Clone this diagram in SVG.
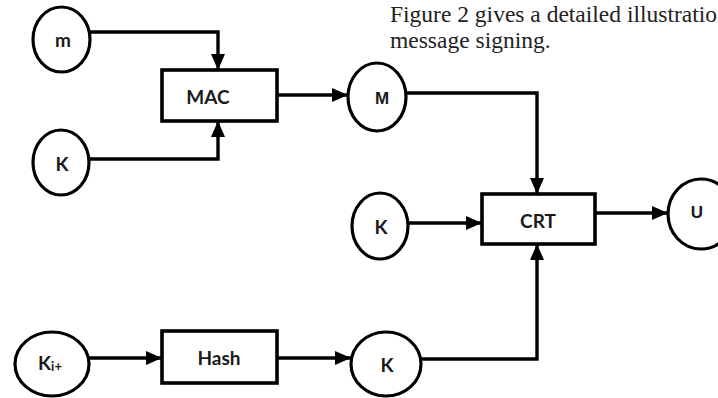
<svg xmlns="http://www.w3.org/2000/svg" width="718" height="398" viewBox="0 0 718 398">
<defs>
<marker id="arr" markerUnits="userSpaceOnUse" markerWidth="16" markerHeight="16" viewBox="0 0 16 16" refX="16" refY="8" orient="auto">
<path d="M0,1 L16,8 L0,15 Z" fill="#000"/>
</marker>
<style>
.node ellipse{fill:#fff;stroke:#000;stroke-width:3.2}
.node rect{fill:#fff;stroke:#000;stroke-width:3.6}
.lbl{font-family:Lato,"Open Sans",sans-serif;font-weight:bold;font-size:19px;fill:#1a1a1a;text-anchor:middle;dominant-baseline:central}
.lbl2{font-family:"Liberation Sans",Arial,sans-serif;font-weight:bold;font-size:17px;fill:#1a1a1a;text-anchor:middle;dominant-baseline:central}
.conn path{fill:none;stroke:#000;stroke-width:3.4;marker-end:url(#arr)}
.cap{font-family:"Liberation Serif","Times New Roman",serif;font-size:23.5px;fill:#222}
</style>
</defs>
<rect width="718" height="398" fill="#fff"/>
<text class="cap" x="390" y="22">Figure 2 gives a detailed illustratio</text>
<text class="cap" x="390" y="48">message signing.</text>
<g class="conn" id="connectors">
<path d="M90,32 H218 V70"/>
<path d="M89,159 H218 V121"/>
<path d="M277,95 H348"/>
<path d="M406,93 H537 V194"/>
<path d="M408,223 H482"/>
<path d="M595,213 H668"/>
<path d="M421,359 H537 V244"/>
<path d="M89,358 H162"/>
<path d="M277,358 H351"/>
</g>
<g class="node" id="n-m"><ellipse cx="61.5" cy="39.5" rx="28.5" ry="32.5"/><text class="lbl" x="63" y="39">m</text></g>
<g class="node" id="n-k1"><ellipse cx="61" cy="162.5" rx="28" ry="32.5"/><text class="lbl" x="62" y="163">K</text></g>
<g class="node" id="n-mac"><rect x="162" y="70" width="115" height="51"/><text class="lbl" x="208" y="96">MAC</text></g>
<g class="node" id="n-M"><ellipse cx="377" cy="97" rx="29" ry="34"/><text class="lbl2" x="382" y="98">M</text></g>
<g class="node" id="n-k2"><ellipse cx="380" cy="226" rx="28" ry="33"/><text class="lbl" x="381" y="226">K</text></g>
<g class="node" id="n-crt"><rect x="482" y="194" width="113" height="50"/><text class="lbl" x="538" y="220">CRT</text></g>
<g class="node" id="n-U"><ellipse cx="701" cy="214" rx="33" ry="35"/><text class="lbl2" x="697" y="212">U</text></g>
<g class="node" id="n-ki"><ellipse cx="52" cy="364" rx="37" ry="32"/><text class="lbl" x="50" y="362">K<tspan font-size="13" dy="4">i+</tspan></text></g>
<g class="node" id="n-hash"><rect x="162" y="331" width="115" height="52"/><text class="lbl" x="219" y="357">Hash</text></g>
<g class="node" id="n-k3"><ellipse cx="386" cy="364" rx="35" ry="32"/><text class="lbl" x="387" y="364">K</text></g>
</svg>
